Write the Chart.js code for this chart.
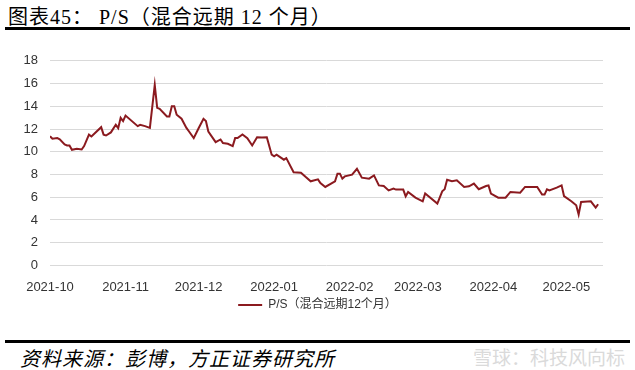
<!DOCTYPE html>
<html>
<head>
<meta charset="utf-8">
<script src="https://cdn.jsdelivr.net/npm/chart.js@4"></script>
<style>
  body { margin: 0; width: 635px; height: 370px; background: #fff; position: relative; overflow: hidden; }
  #title { position: absolute; left: 8px; top: 1px; font: 20px "Liberation Serif", "Noto Sans CJK SC"; letter-spacing: 1px; color: #000; }
  .rule { position: absolute; left: 5px; width: 625px; height: 3px; background: #000; }
  #box { position: absolute; left: 0; top: 41px; width: 635px; height: 280px; }
  #source { position: absolute; left: 20px; top: 343px; font: italic 20px "Noto Sans CJK SC"; letter-spacing: 1px; color: #000; }
  #mark { position: absolute; right: 10px; top: 343px; font: 19px "Noto Sans CJK SC"; color: #dadada; }
</style>
</head>
<body>
<div id="title">图表45： P/S（混合远期 12 个月）</div>
<div class="rule" style="top:27px"></div>
<div id="box"><canvas id="myChart"></canvas></div>
<div class="rule" style="top:340px"></div>
<div id="source">资料来源：彭博，方正证券研究所</div>
<div id="mark">雪球：科技风向标</div>

<script>
// days counted from 2021-10-01
const days = [
  0, 1, 3, 4, 6, 7, 8, 9, 11, 13,
  14, 16, 17, 21, 22, 23, 25, 27, 28, 29,
  30, 31, 36, 37, 39, 41, 43, 44, 45, 48,
  49, 50, 51, 52, 54, 56, 57, 59, 61, 63,
  64, 65, 68, 70, 71, 73, 75, 76, 77, 79,
  81, 83, 85, 87, 89, 90, 91, 92, 93, 96,
  97, 100, 103, 105, 107, 110, 111, 113, 117, 118,
  119, 120, 121, 124, 126, 128, 131, 133, 135, 137,
  139, 141, 142, 145, 146, 147, 150, 153, 154, 159,
  161, 162, 163, 165, 167, 170, 172, 174, 176, 179,
  180, 181, 184, 187, 189, 193, 195, 200, 202, 203,
  204, 205, 208, 210, 211, 214, 216, 217, 218, 222,
  224, 225
];

const psValues = [
  11.37, 11.14, 11.2, 11.1, 10.64, 10.55, 10.55, 10.17, 10.26, 10.2,
  10.5, 11.5, 11.34, 12.16, 11.5, 11.43, 11.7, 12.37, 12.07, 12.98,
  12.7, 13.18, 12.25, 12.37, 12.25, 12.1, 15.88, 13.86, 13.77, 13.1,
  13.1, 14.0, 14.0, 13.25, 12.9, 12.1, 11.8, 11.2, 12.07, 12.9,
  12.7, 11.78, 10.84, 11.08, 10.76, 10.7, 10.5, 11.2, 11.2, 11.52,
  11.2, 10.55, 11.28, 11.25, 11.28, 10.5, 9.74, 9.6, 9.74, 9.3,
  9.44, 8.2, 8.16, 7.77, 7.4, 7.57, 7.25, 6.9, 7.4, 8.07,
  8.07, 7.63, 7.83, 7.98, 8.5, 7.72, 7.63, 7.92, 7.04, 6.98,
  6.6, 6.75, 6.67, 6.67, 6.08, 6.46, 5.96, 5.64, 6.32, 5.44,
  6.52, 6.7, 7.54, 7.4, 7.48, 6.9, 6.96, 7.2, 6.7, 6.98,
  7.04, 6.32, 5.96, 5.96, 6.46, 6.4, 6.9, 6.9, 6.23, 6.23,
  6.7, 6.6, 6.84, 7.04, 6.1, 5.64, 5.29, 4.47, 5.58, 5.64,
  5.09, 5.38
];

const monthStarts = [0, 31, 61, 92, 123, 151, 182, 212];
const monthLabels = ['2021-10', '2021-11', '2021-12', '2022-01', '2022-02', '2022-03', '2022-04', '2022-05'];

const points = days.map((d, i) => ({ x: d, y: psValues[i] }));

// legend sits centred on the page, not on the plot box
const legendShift = {
    id: 'legendShift',
    afterLayout(chart) {
        chart.legend.left += 16;
        chart.legend.right += 16;
    }
};

const ctx = document.getElementById('myChart').getContext('2d');
const myChart = new Chart(ctx, {
    type: 'line',
    data: {
        datasets: [{
            label: 'P/S（混合远期12个月）',
            data: points,
            borderColor: '#8b1a1f',
            backgroundColor: '#8b1a1f',
            borderWidth: 2,
            pointRadius: 0,
            tension: 0
        }]
    },
    plugins: [legendShift],
    options: {
        responsive: true,
        maintainAspectRatio: false,
        animation: false,
        layout: {
            padding: { left: 0, right: 32, top: 14, bottom: 0 }
        },
        plugins: {
            tooltip: { enabled: false },
            legend: {
                position: 'bottom',
                labels: {
                    usePointStyle: true,
                    pointStyle: 'line',
                    pointStyleWidth: 24,
                    color: '#333',
                    padding: 8,
                    font: { family: 'Liberation Sans, "Noto Sans CJK SC"', size: 12 }
                }
            }
        },
        scales: {
            x: {
                type: 'linear',
                min: 0,
                max: 227,
                grid: { display: false },
                border: { display: false },
                // pull the plot down closer to the legend
                afterFit: function(scale) { scale.height = scale.height - 10; },
                afterBuildTicks: function(scale) {
                    scale.ticks = monthStarts.map(v => ({ value: v }));
                },
                ticks: {
                    autoSkip: false,
                    maxRotation: 0,
                    padding: 6,
                    color: '#333',
                    font: { family: 'Liberation Sans', size: 13 },
                    callback: function(val) {
                        return monthLabels[monthStarts.indexOf(val)];
                    }
                }
            },
            y: {
                min: 0,
                max: 18,
                afterFit: function(scale) { scale.width = 50; },
                grid: { color: '#d9d9d9', drawTicks: false },
                border: { display: false },
                ticks: {
                    stepSize: 2,
                    padding: 12,
                    color: '#333',
                    font: { family: 'Liberation Sans', size: 13 }
                }
            }
        }
    }
})
</script>
</body>
</html>
